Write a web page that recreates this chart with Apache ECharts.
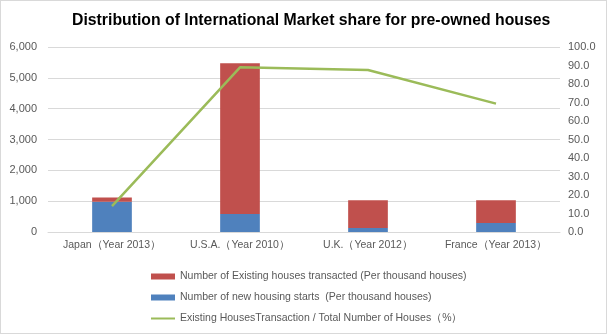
<!DOCTYPE html>
<html><head><meta charset="utf-8">
<script src="https://cdn.jsdelivr.net/npm/echarts@6/dist/echarts.min.js"></script>
<style>html,body{margin:0;padding:0;background:#fff}#c{width:605px;height:332px;border:1px solid #d9d9d9}</style>
</head><body><div id="c"></div>
<script>
const categories = ["Japan（Year 2013）", "U.S.A.（Year 2010）", "U.K.（Year 2012）", "France（Year 2013）"];
const newStarts = [980, 580, 130, 290];
const existingTransacted = [140, 4890, 900, 740];
const transactionShare = [14, 89, 87.6, 69.4];
const leftTicks = [0, 6000, 1000];
const rightTicks = [0, 100, 10];
const names = ["Number of Existing houses transacted (Per thousand houses)", "Number of new housing starts  (Per thousand houses)", "Existing HousesTransaction / Total Number of Houses（%）"];

const chart = echarts.init(document.getElementById('c'));
const txt = {color:'#595959', fontFamily:'Liberation Sans, Arial, sans-serif', fontSize:11};
chart.setOption({
  animation:false,
  title:{text:'Distribution of International Market share for pre-owned houses', left:66, top:7,
    textStyle:{fontFamily:'Liberation Sans, Arial, sans-serif', fontWeight:'bold', fontSize:15.8, color:'#000'}},
  grid:{left:47, right:46, top:46, bottom:101},
  legend:{orient:'vertical', left:144, top:265, itemGap:10, itemWidth:24, itemHeight:6,
    data:[{name:names[0], icon:'rect'},{name:names[1], icon:'rect'},{name:names[2], itemStyle:{opacity:0}}],
    textStyle:Object.assign({}, txt, {fontSize:10.5})},
  xAxis:{type:'category', data:categories, axisTick:{show:false},
    axisLine:{lineStyle:{color:'#d9d9d9'}}, axisLabel:Object.assign({margin:8, interval:0}, txt, {fontSize:10.5})},
  yAxis:[
    {type:'value', min:leftTicks[0], max:leftTicks[1], interval:leftTicks[2],
      splitLine:{lineStyle:{color:'#d9d9d9'}}, axisLine:{show:false}, axisTick:{show:false},
      axisLabel:Object.assign({margin:11, formatter:v=>v.toLocaleString('en-US')}, txt)},
    {type:'value', min:rightTicks[0], max:rightTicks[1], interval:rightTicks[2], position:'right',
      splitLine:{show:false}, axisLine:{show:false}, axisTick:{show:false},
      axisLabel:Object.assign({margin:8, formatter:v=>v.toFixed(1)}, txt)}
  ],
  series:[
    {name:names[1], type:'bar', stack:'a', data:newStarts, barWidth:'31%', itemStyle:{color:'#4F81BD'}},
    {name:names[0], type:'bar', stack:'a', data:existingTransacted, barWidth:'31%', itemStyle:{color:'#C0504D'}},
    {name:names[2], type:'line', yAxisIndex:1, data:transactionShare, symbol:'none',
      lineStyle:{color:'#9BBB59', width:2.5}, itemStyle:{color:'#9BBB59'}}
  ]
});
</script></body></html>
